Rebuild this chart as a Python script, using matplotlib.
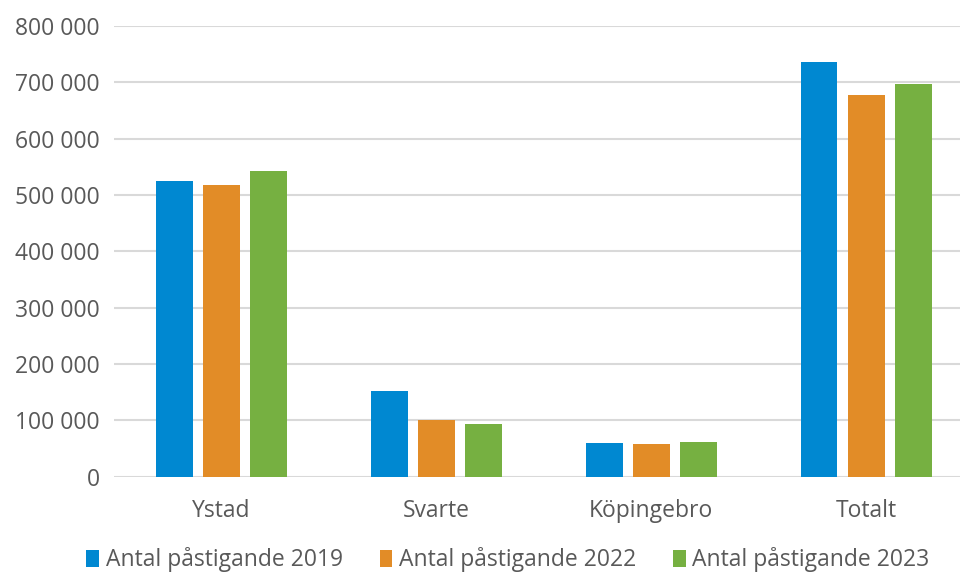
import numpy as np
import matplotlib.pyplot as plt
from matplotlib.ticker import FuncFormatter

categories = ["Ystad", "Svarte", "Köpingebro", "Totalt"]
series_names = ["Antal påstigande 2019", "Antal påstigande 2022", "Antal påstigande 2023"]
values_2019 = [524000, 152000, 60000, 736000]
values_2022 = [518000, 101000, 57000, 677000]
values_2023 = [543000, 93000, 61000, 697000]
colors = ["#0088D1", "#E28C27", "#76B041"]

plt.rcParams["font.family"] = ["Open Sans", "DejaVu Sans"]
text_color = "#595959"

fig = plt.figure(figsize=(9.6, 5.75), dpi=100)
ax = fig.add_axes([114 / 960, 1 - 476.5 / 575, 1 - 114 / 960, 450.5 / 575])

x = np.arange(len(categories))
width = 0.172
step = 0.219
for i, (vals, name) in enumerate(zip([values_2019, values_2022, values_2023], series_names)):
    ax.bar(x + (i - 1) * step, vals, width, color=colors[i], label=name, zorder=3)

ax.set_ylim(0, 800000)
ax.set_xlim(-0.5, (960 - 221) / 215)
ax.set_yticks(np.arange(0, 800001, 100000))
ax.yaxis.set_major_formatter(FuncFormatter(lambda v, p: f"{int(v):,}".replace(",", " ")))
ax.set_xticks(x)
ax.set_xticklabels(categories)

ax.grid(axis="y", color="#d9d9d9", linewidth=1.5, zorder=0)
for s in ax.spines.values():
    s.set_visible(False)
ax.tick_params(axis="both", length=0, labelsize=16.5, colors=text_color)
ax.tick_params(axis="y", pad=10)
ax.tick_params(axis="x", pad=16)

fig.legend(loc="center", bbox_to_anchor=(508 / 960, 1 - 560 / 575), ncol=3, frameon=False,
           fontsize=16.5, labelcolor=text_color, handlelength=0.55, handleheight=0.7,
           handletextpad=0.3, columnspacing=1.6, borderpad=0.2)

fig.savefig("out.png", dpi=100)
